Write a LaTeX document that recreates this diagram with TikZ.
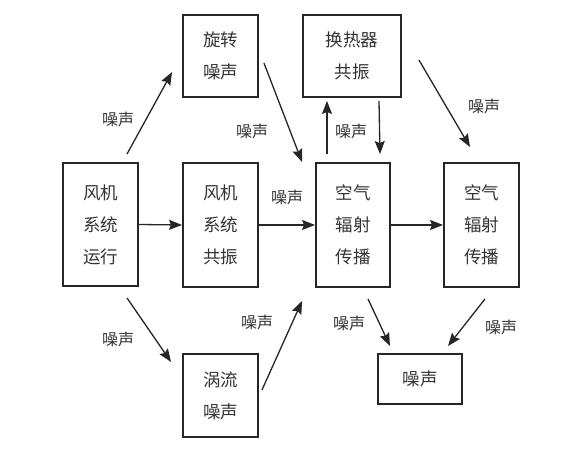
\documentclass[tikz,border=0pt]{standalone}
\usepackage{fontspec}
\setmainfont{Noto Sans CJK SC}
\usetikzlibrary{arrows.meta}
\begin{document}
\begin{tikzpicture}[x=1pt,y=-1pt,
  box/.style={draw=black!85, line width=1.9pt, rectangle, inner sep=0pt, align=center,
    font=\fontsize{17.5}{32}\selectfont, text=black!80},
  lbl/.style={font=\fontsize{16}{18}\selectfont, text=black!80, inner sep=0pt},
  arr/.style={draw=black!85, line width=1.3pt, -{Stealth[length=13pt,width=10pt,inset=2pt]}}]
\useasboundingbox (0,0) rectangle (579,454);
% boxes
\node[box, minimum width=75pt, minimum height=82pt] (rot) at (220.5,56) {旋转\\噪声};
\node[box, minimum width=75pt, minimum height=123pt] (run) at (100.5,224.5) {风机\\系统\\运行};
\node[box, minimum width=75pt, minimum height=124pt] (res) at (220.5,225) {风机\\系统\\共振};
\node[box, minimum width=98pt, minimum height=82pt] (hx) at (352,56) {换热器\\共振};
\node[box, minimum width=74pt, minimum height=124pt] (airL) at (353,225) {空气\\辐射\\传播};
\node[box, minimum width=75pt, minimum height=124pt] (airR) at (481.5,225) {空气\\辐射\\传播};
\node[box, minimum width=75pt, minimum height=83pt] (eddy) at (220.5,395.5) {涡流\\噪声};
\node[box, minimum width=84pt, minimum height=50pt] (noise) at (420,379) {噪声};
% arrows
\draw[arr] ([xshift=26.5pt,yshift=8pt]run.north) -- ([xshift=-10pt,yshift=-16pt]rot.west);
\draw[arr] ([xshift=5pt,yshift=-7pt]rot.east) -- ([xshift=-13pt]airL.north west);
\draw[arr] (run.east) -- (res.west);
\draw[arr] (res.east) -- (airL.west);
\draw[arr] ([xshift=-26pt,yshift=8pt]airL.north) -- ([xshift=-25pt,yshift=-3pt]hx.south);
\draw[arr] ([xshift=27pt,yshift=-3pt]hx.south) -- ([xshift=27pt,yshift=8pt]airL.north);
\draw[arr] ([xshift=17pt,yshift=-4pt]hx.east) -- ([xshift=-11.5pt,yshift=15pt]airR.north);
\draw[arr] (airL.east) -- (airR.west);
\draw[arr] ([xshift=26.5pt,yshift=-11pt]run.south) -- ([xshift=-11pt,yshift=33.5pt]eddy.west);
\draw[arr] ([xshift=3pt,yshift=5.5pt]eddy.east) -- ([xshift=-13pt,yshift=-13pt]airL.south west);
\draw[arr] ([xshift=15pt,yshift=-11pt]airL.south) -- ([xshift=-30pt,yshift=7pt]noise.north);
\draw[arr] ([xshift=3.5pt,yshift=-11pt]airR.south) -- ([xshift=28pt,yshift=7pt]noise.north);
% labels
\node[lbl] (l1) at (118,119) {噪声};
\node[lbl] (l2) at (252,131) {噪声};
\node[lbl] (l3) at (287,197) {噪声};
\node[lbl] (l4) at (351,131) {噪声};
\node[lbl] (l5) at (484,106) {噪声};
\node[lbl] (l6) at (118,339) {噪声};
\node[lbl] (l7) at (257,322) {噪声};
\node[lbl] (l8) at (349,323) {噪声};
\node[lbl] (l9) at (501,327) {噪声};
\end{tikzpicture}
\end{document}
